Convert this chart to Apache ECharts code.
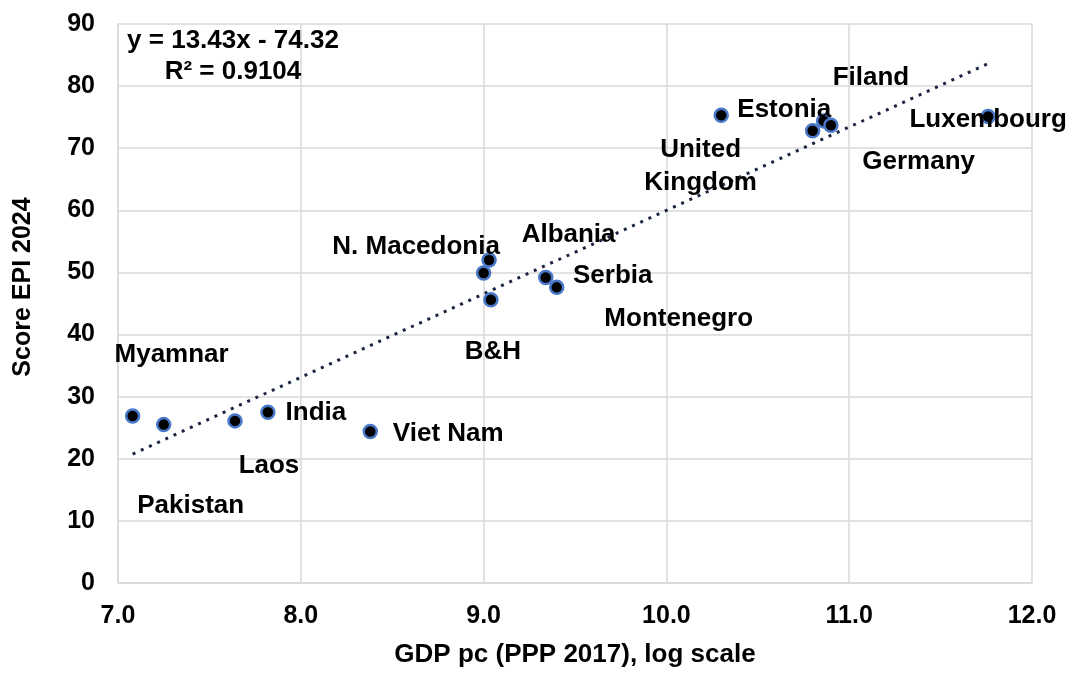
<!DOCTYPE html>
<html>
<head>
<meta charset="utf-8">
<script src="https://cdn.jsdelivr.net/npm/echarts@6/dist/echarts.min.js"></script>
<style>
  html, body { margin: 0; padding: 0; background: #fff; }
  #chart { width: 1075px; height: 673px; }
</style>
</head>
<body>
<div id="chart"></div>
<script>
// 数据：国家、log GDP pc、EPI得分
const countries = ['Myamnar', 'Pakistan', 'Laos', 'India', 'Viet Nam',
    'N. Macedonia', 'Albania', 'B&H', 'Serbia', 'Montenegro',
    'Estonia', 'United\nKingdom', 'Germany', 'Filand', 'Luxembourg'];
const logGdp = [7.08, 7.25, 7.64, 7.82, 8.38,
    9.03, 9.00, 9.04, 9.34, 9.40,
    10.30, 10.80, 10.86, 10.90, 11.76];
const epiScore = [26.9, 25.5, 26.1, 27.5, 24.4,
    52.0, 49.9, 45.6, 49.2, 47.6,
    75.3, 72.8, 74.4, 73.7, 75.1];

// 趋势线系数
const slope = 13.43;
const intercept = -74.32;
const r2 = '0.9104';

// 坐标轴刻度
const xTicks = [7, 8, 9, 10, 11, 12];
const yTicks = [0, 10, 20, 30, 40, 50, 60, 70, 80, 90];

// 标签偏移（像素）
const labelOffsets = [[39, -61], [27, 81], [34, 45], [48, 1], [78, 2],
    [-73, -13], [85, -38], [2, 52], [67, -2], [122, 31],
    [63, -5], [-112, 35], [95, 41], [40, -47], [0, 3]];

const chart = echarts.init(document.getElementById('chart'));

const font = 'Liberation Sans, Arial, sans-serif';

const points = countries.map((name, i) => ({
    name: name,
    value: [logGdp[i], epiScore[i]],
    label: {
        show: true,
        position: 'inside',
        offset: labelOffsets[i],
        formatter: '{b}',
        fontFamily: font,
        fontWeight: 'bold',
        fontSize: 26,
        color: '#000',
        opacity: 1,
        textBorderWidth: 0,
        lineHeight: 33,
        align: 'center'
    }
}));

// 趋势线端点
const xMin = Math.min(...logGdp);
const xMax = Math.max(...logGdp);
const trendData = [[xMin, slope * xMin + intercept], [xMax, slope * xMax + intercept]];

chart.setOption({
    animation: false,
    grid: { left: 118, right: 43, top: 24, bottom: 85 },
    xAxis: {
        type: 'value',
        min: xTicks[0],
        max: xTicks[xTicks.length - 1],
        interval: 1,
        name: 'GDP pc (PPP 2017), log scale',
        nameLocation: 'middle',
        nameGap: 59,
        nameTextStyle: { fontFamily: font, fontWeight: 'bold', fontSize: 26, color: '#000' },
        axisLine: { lineStyle: { color: '#d9d9d9', width: 1.5 } },
        axisTick: { show: false },
        axisLabel: {
            formatter: v => v.toFixed(1),
            fontFamily: font, fontWeight: 'bold', fontSize: 25, color: '#000', margin: 21
        },
        splitLine: { show: true, lineStyle: { color: '#d9d9d9', width: 1.5 } }
    },
    yAxis: {
        type: 'value',
        min: yTicks[0],
        max: yTicks[yTicks.length - 1],
        interval: 10,
        axisLine: { show: true, lineStyle: { color: '#d9d9d9', width: 1.5 } },
        axisTick: { show: false },
        axisLabel: { fontFamily: font, fontWeight: 'bold', fontSize: 25, color: '#000', margin: 23 },
        splitLine: { show: true, lineStyle: { color: '#d9d9d9', width: 1.5 } }
    },
    graphic: [{
        type: 'text',
        x: 233,
        y: 25,
        style: {
            text: 'y = ' + slope + 'x - ' + Math.abs(intercept) + '\nR² = ' + r2,
            fontFamily: font,
            fontWeight: 'bold',
            fontSize: 26,
            lineHeight: 31,
            fill: '#000',
            align: 'center',
            verticalAlign: 'top'
        },
        z: 10
    }, {
        type: 'text',
        x: 23,
        y: 287,
        rotation: Math.PI / 2,
        style: {
            text: 'Score EPI 2024',
            fontFamily: font,
            fontWeight: 'bold',
            fontSize: 25,
            fill: '#000',
            align: 'center',
            verticalAlign: 'middle'
        }
    }],
    series: [
        {
            type: 'line',
            data: trendData,
            symbol: 'none',
            lineStyle: { color: '#1a2540', width: 3, type: [3, 6] },
            z: 2
        },
        {
            type: 'scatter',
            data: points,
            symbol: 'circle',
            symbolSize: 13,
            itemStyle: { color: '#000', borderColor: '#4a78c8', borderWidth: 2.5, opacity: 1 },
            z: 3
        }
    ]
});
</script>
</body>
</html>
